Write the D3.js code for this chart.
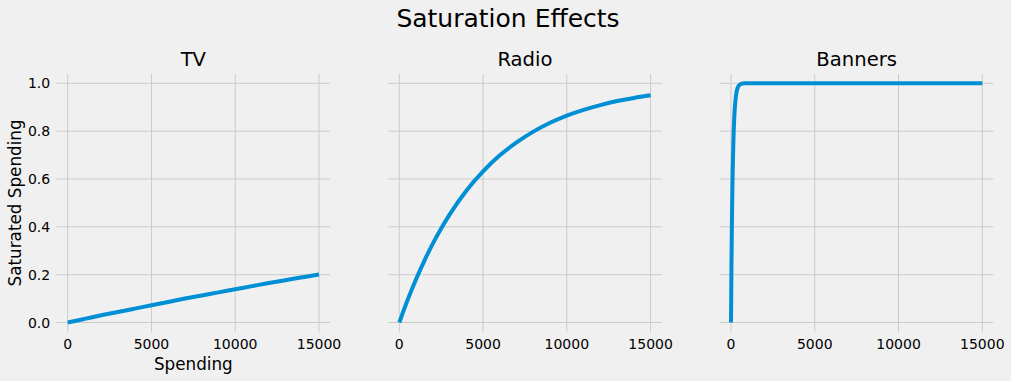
<!DOCTYPE html>
<html><head><meta charset="utf-8">
<script src="https://cdn.jsdelivr.net/npm/d3@7/dist/d3.min.js"></script>
<style>
html,body{margin:0;padding:0;background:#f0f0f0;}
text{font-family:"DejaVu Sans",sans-serif;fill:#000;}
</style></head>
<body><svg id="c" width="1011" height="381"></svg>
<script>
const chartTitle = "Saturation Effects";
const panelTitles = ["TV", "Radio", "Banners"];
const xTicks = [0, 5000, 10000, 15000];
const yTicks = [0.0, 0.2, 0.4, 0.6, 0.8, 1.0];
const yTickLabels = ["0.0", "0.2", "0.4", "0.6", "0.8", "1.0"];
const xLabel = "Spending";
const yLabel = "Saturated Spending";

const tvX = [0,1000,2000,3000,4000,5000,6000,7000,8000,9000,10000,11000,12000,13000,14000,15000];
const tvY = [0,0.015,0.030,0.044,0.058,0.072,0.086,0.100,0.113,0.126,0.139,0.152,0.165,0.177,0.189,0.201];

const radioX = [0,500,1000,1500,2000,2500,3000,4000,5000,6000,7000,8000,9000,10000,11000,12000,13000,14000,15000];
const radioY = [0,0.095,0.181,0.259,0.330,0.393,0.451,0.551,0.632,0.699,0.753,0.798,0.835,0.865,0.889,0.909,0.926,0.939,0.950];

const bannersX = [0,25,50,75,100,150,200,250,300,400,500,600,800,1000,2000,5000,10000,15000];
const bannersY = [0,0.221,0.393,0.528,0.632,0.777,0.865,0.918,0.950,0.982,0.993,0.998,1.0,1.0,1.0,1.0,1.0,1.0];

const seriesX = [tvX, radioX, bannersX];
const seriesY = [tvY, radioY, bannersY];

const svg = d3.select("#c");
const panelLeft = [56.7, 388.3, 720];
const pw = 273.3, plotTop = 74, plotBottom = 332.3;

svg.append("text").attr("x", 508).attr("y", 27).attr("text-anchor","middle")
  .style("font-size","25px").text(chartTitle);

const y = d3.scaleLinear().domain([-0.041, 1.039]).range([plotBottom, plotTop]);

panelTitles.forEach((t, i) => {
  const L = panelLeft[i];
  const x = d3.scaleLinear().domain([-657, 15657]).range([L, L + pw]);
  const g = svg.append("g");
  g.selectAll(".gx").data(xTicks).enter().append("line")
    .attr("x1", d => x(d)).attr("x2", d => x(d)).attr("y1", plotTop).attr("y2", plotBottom)
    .attr("stroke", "#cbcbcb").attr("stroke-width", 1);
  g.selectAll(".gy").data(yTicks).enter().append("line")
    .attr("x1", L).attr("x2", L + pw).attr("y1", d => y(d)).attr("y2", d => y(d))
    .attr("stroke", "#cbcbcb").attr("stroke-width", 1);
  g.selectAll(".tx").data(xTicks).enter().append("text")
    .attr("x", d => x(d)).attr("y", 348.5).attr("text-anchor", "middle")
    .style("font-size", "14px").text(d => d);
  if (i === 0) {
    g.selectAll(".ty").data(yTicks).enter().append("text")
      .attr("x", L - 6.5).attr("y", d => y(d)).attr("dy", "0.36em").attr("text-anchor", "end")
      .style("font-size", "14px").text((d, j) => yTickLabels[j]);
    g.append("text").attr("x", x(7500)).attr("y", 369.5).attr("text-anchor", "middle")
      .style("font-size", "16.8px").text(xLabel);
    g.append("text").attr("transform", `translate(20.5,${y(0.5)}) rotate(-90)`)
      .attr("text-anchor", "middle").style("font-size", "16.8px").text(yLabel);
  }
  g.append("text").attr("x", L + pw / 2).attr("y", 66).attr("text-anchor", "middle")
    .style("font-size", "19.6px").text(t);
  const pts = seriesX[i].map((v, k) => [v, seriesY[i][k]]);
  g.append("path").datum(pts)
    .attr("d", d3.line().x(d => x(d[0])).y(d => y(d[1])).curve(d3.curveMonotoneX))
    .attr("fill", "none").attr("stroke", "#008fd5").attr("stroke-width", 4)
    .attr("stroke-linejoin", "round");
});
</script></body></html>
